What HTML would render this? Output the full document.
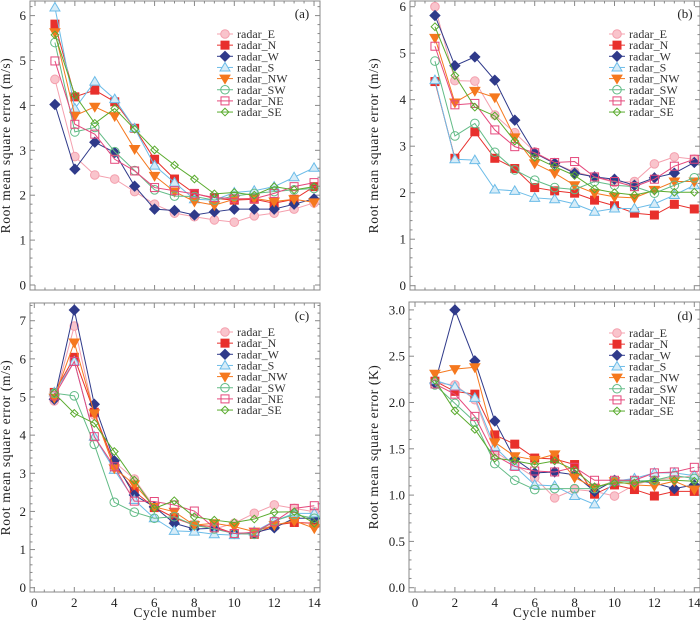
<!DOCTYPE html>
<html><head><meta charset="utf-8"><style>
body{margin:0;background:#fff}
svg{display:block;font-family:"Liberation Serif",serif}
</style></head><body>
<svg id="c" width="700" height="622" viewBox="0 0 700 622" xmlns="http://www.w3.org/2000/svg"></svg>
<script>
const cycles=[1,2,3,4,5,6,7,8,9,10,11,12,13,14];
const seriesNames=["radar_E","radar_N","radar_W","radar_S","radar_NW","radar_SW","radar_NE","radar_SE"];
const aE=[4.58,2.86,2.45,2.36,2.08,1.8,1.6,1.52,1.45,1.4,1.54,1.6,1.69,1.83];
const aN=[5.81,4.19,4.34,4.08,3.49,2.8,2.36,2.04,1.93,1.89,1.91,1.82,1.91,2.19];
const aW=[4.02,2.58,3.18,2.95,2.2,1.69,1.66,1.56,1.63,1.69,1.69,1.69,1.8,1.92];
const aS=[6.18,3.93,4.53,4.14,3.49,2.66,2.28,1.91,1.89,2.06,2.1,2.19,2.4,2.61];
const aNW=[5.63,3.77,3.97,3.76,3.03,2.43,2.08,1.86,1.78,1.91,1.93,1.86,1.91,1.84];
const aSW=[5.4,3.41,3.51,2.97,2.55,2.12,1.98,1.97,1.89,1.98,2.04,2.08,2.12,2.15];
const aNE=[4.99,3.58,3.36,2.8,2.54,2.17,2.1,2.03,1.95,1.92,1.92,2.04,2.19,2.28];
const aSE=[5.57,4.23,3.6,3.93,3.47,3.01,2.67,2.36,2.03,2.06,2.0,2.19,2.12,2.19];
const bE=[6.0,4.41,4.4,3.67,3.29,2.88,2.63,2.45,2.34,2.22,2.24,2.62,2.77,2.72];
const bN=[4.39,2.74,3.31,2.74,2.52,2.11,2.04,1.99,1.84,1.72,1.56,1.52,1.75,1.65];
const bW=[5.81,4.73,4.92,4.42,3.56,2.85,2.63,2.42,2.34,2.29,2.16,2.32,2.42,2.65];
const bS=[4.42,2.72,2.7,2.07,2.04,1.89,1.86,1.76,1.59,1.66,1.66,1.76,1.95,2.16];
const bNW=[5.33,3.94,4.19,4.05,3.19,2.63,2.42,2.16,1.99,1.91,1.89,2.06,2.24,2.24];
const bSW=[4.83,3.22,3.49,2.87,2.49,2.27,2.11,2.07,2.24,2.16,2.13,1.99,2.16,2.32];
const bNE=[5.15,3.89,3.92,3.35,2.99,2.86,2.65,2.67,2.34,2.24,2.13,2.29,2.57,2.72];
const bSE=[5.57,4.52,3.84,3.65,3.11,2.76,2.56,2.37,2.08,2.0,1.95,2.04,2.01,2.01];
const cE=[4.9,6.86,4.53,3.3,2.85,2.12,1.82,1.64,1.54,1.69,1.95,2.17,2.08,1.99];
const cN=[5.12,6.04,4.6,3.23,2.53,2.1,1.84,1.64,1.6,1.42,1.4,1.64,1.71,1.69];
const cW=[4.94,7.28,4.81,3.33,2.43,2.12,1.69,1.54,1.56,1.42,1.44,1.57,1.82,1.82];
const cS=[5.12,5.93,3.96,3.09,2.3,1.82,1.49,1.47,1.4,1.38,1.47,1.75,1.95,1.95];
const cNW=[4.98,6.43,4.57,3.13,2.71,2.12,1.99,1.64,1.69,1.6,1.47,1.64,1.75,1.56];
const cSW=[5.1,5.03,3.76,2.24,1.98,1.82,1.86,1.64,1.54,1.42,1.4,1.75,1.92,1.82];
const cNE=[5.03,5.93,3.96,3.17,2.27,2.26,2.17,2.01,1.57,1.42,1.45,1.73,2.08,2.15];
const cSE=[5.1,4.57,4.31,3.57,2.82,2.08,2.28,1.86,1.77,1.71,1.8,1.98,1.99,1.69];
const dE=[2.21,2.19,2.03,1.47,1.33,1.19,0.97,1.06,1.04,0.99,1.11,1.17,1.18,1.21];
const dN=[2.23,2.12,2.09,1.65,1.55,1.4,1.39,1.33,1.01,1.11,1.06,0.99,1.04,1.04];
const dW=[2.21,3.0,2.45,1.8,1.39,1.24,1.25,1.22,1.04,1.16,1.16,1.13,1.07,1.11];
const dS=[2.24,2.17,2.05,1.52,1.31,1.11,1.1,0.99,0.9,1.15,1.18,1.24,1.24,1.21];
const dNW=[2.31,2.36,2.38,1.57,1.42,1.38,1.44,1.19,1.08,1.15,1.11,1.1,1.15,1.06];
const dSW=[2.19,1.99,1.79,1.34,1.16,1.06,1.07,1.07,1.07,1.15,1.15,1.16,1.21,1.18];
const dNE=[2.2,2.09,1.85,1.43,1.31,1.26,1.25,1.3,1.16,1.16,1.16,1.24,1.25,1.3];
const dSE=[2.24,1.91,1.71,1.4,1.37,1.33,1.37,1.27,1.09,1.13,1.13,1.16,1.16,1.15];
const xTickLabels=["0","2","4","6","8","10","12","14"];
const yTicksA=["0","1","2","3","4","5","6"];
const yTicksC=["0","1","2","3","4","5","6","7"];
const yTicksD=["0.0","0.5","1.0","1.5","2.0","2.5","3.0"];

const NS="http://www.w3.org/2000/svg";
const svg=document.getElementById('c');
function mk(tag,attrs,parent){const e=document.createElementNS(NS,tag);for(const k in attrs)e.setAttribute(k,attrs[k]);(parent||svg).appendChild(e);return e;}
const styles=[
 {stroke:"#f4a0ae",fill:"#f9c4cc",shape:"circle",line:"#f4a0ae"},
 {stroke:"#e8302c",fill:"#e8302c",shape:"square",line:"#e8302c"},
 {stroke:"#2f3a8a",fill:"#2f3a8a",shape:"diamond",line:"#2f3a8a"},
 {stroke:"#6cbce8",fill:"#d6ecf8",shape:"tri",line:"#6cbce8"},
 {stroke:"#f5781e",fill:"#f5781e",shape:"tridown",line:"#f5781e"},
 {stroke:"#62bb86",fill:"none",shape:"circle",line:"#62bb86"},
 {stroke:"#e5487c",fill:"none",shape:"square",line:"#e5487c"},
 {stroke:"#5aab2e",fill:"none",shape:"diamondS",line:"#5aab2e"}];
function marker(g,s,x,y){
 const a={stroke:s.stroke,fill:s.fill,'stroke-width':1};
 let e;
 if(s.shape==="circle"){e=mk('circle',Object.assign({cx:x,cy:y,r:4.3},a),g);}
 else if(s.shape==="square"){e=mk('rect',Object.assign({x:x-4,y:y-4,width:8,height:8},a),g);}
 else if(s.shape==="diamond"){e=mk('polygon',Object.assign({points:`${x},${y-5} ${x+5},${y} ${x},${y+5} ${x-5},${y}`},a),g);}
 else if(s.shape==="diamondS"){e=mk('polygon',Object.assign({points:`${x},${y-3.8} ${x+3.8},${y} ${x},${y+3.8} ${x-3.8},${y}`},a),g);}
 else if(s.shape==="tri"){e=mk('polygon',Object.assign({points:`${x},${y-5} ${x+5},${y+3.5} ${x-5},${y+3.5}`},a),g);}
 else {e=mk('polygon',Object.assign({points:`${x},${y+5} ${x+5},${y-3.5} ${x-5},${y-3.5}`},a),g);}
 return e;
}
const panels=[
 {id:"a",L:30,R:320,T:1,B:290,x0:35,xu:19.93,y0:285,yu:44.9,ymaj:1,ymin:0.2,yl:yTicksA,data:[aE,aN,aW,aS,aNW,aSW,aNE,aSE],unit:"(m/s)",lx:225,ly:34,tag:[302,18],xlab:false,yt:10},
 {id:"b",L:410,R:700,T:1,B:290,x0:415,xu:19.95,y0:285.7,yu:46.5,ymaj:1,ymin:0.2,yl:yTicksA,data:[bE,bN,bW,bS,bNW,bSW,bNE,bSE],unit:"(m/s)",lx:617,ly:34,tag:[685,18],xlab:false,yt:378},
 {id:"c",L:30,R:320,T:303,B:592,x0:34.3,xu:20,y0:587.7,yu:38.14,ymaj:1,ymin:0.2,yl:yTicksC,data:[cE,cN,cW,cS,cNW,cSW,cNE,cSE],unit:"(m/s)",lx:225,ly:332,tag:[302,320],xlab:true,yt:10},
 {id:"d",L:409,R:700,T:302,B:592,x0:415,xu:19.95,y0:587.7,yu:92.6,ymaj:0.5,ymin:0.1,yl:yTicksD,data:[dE,dN,dW,dS,dNW,dSW,dNE,dSE],unit:"(K)",lx:617,ly:333,tag:[685,320],xlab:true,yt:378}];
panels.forEach(p=>{
 const g=mk('g',{});
 
 
 const X=v=>p.x0+v*p.xu, Y=v=>p.y0-v*p.yu;
 const box=mk('rect',{x:p.L,y:p.T,width:p.R-p.L,height:p.B-p.T,fill:'none',stroke:'#888','stroke-width':1},g);
 
 
 const tg=mk('g',{stroke:'#888','stroke-width':1},g);
 
 
 for(let i=0;i<=30;i++){const v=i*0.5;const x=X(v);if(x<p.L||x>p.R)continue;const len=(i%4===0)?5:2.5;
  mk('line',{x1:x,x2:x,y1:p.B,y2:p.B-len},tg);mk('line',{x1:x,x2:x,y1:p.T,y2:p.T+len},tg);}
 const nmin=Math.round(p.yl.length*p.ymaj/p.ymin)+3;
 for(let i=0;i<=nmin;i++){const v=i*p.ymin;const y=Y(v);if(y<p.T||y>p.B)continue;const maj=Math.abs(v/p.ymaj-Math.round(v/p.ymaj))<1e-6;const len=maj?5:2.5;
  mk('line',{x1:p.L,x2:p.L+len,y1:y,y2:y},tg);mk('line',{x1:p.R,x2:p.R-len,y1:y,y2:y},tg);}
 const xlg=mk('g',{'font-size':13,'text-anchor':'middle',fill:'#222'},g);
 
 
 if(p.xlab){xTickLabels.forEach((t,i)=>{const e=mk('text',{x:X(i*2),y:p.B+15},xlg);e.textContent=t;});}
 const ylg=mk('g',{'font-size':13,'text-anchor':'end',fill:'#222'},g);
 
 
 p.yl.forEach((t,i)=>{const e=mk('text',{x:p.L-4,y:Y(i*p.ymaj)+4.5},ylg);e.textContent=t;});
 const cy=(p.T+p.B)/2;
 const yt=mk('text',{x:p.yt,y:cy,'font-size':13.5,'text-anchor':'middle',fill:'#222',transform:`rotate(-90 ${p.yt} ${cy})`,'letter-spacing':'0.6'},g);
 yt.textContent='Root  mean  square  error  '+p.unit;
 
 
 if(p.xlab){const xt=mk('text',{x:(p.L+p.R)/2,y:617,'font-size':13.5,'text-anchor':'middle',fill:'#222','letter-spacing':'0.6'},g);xt.textContent='Cycle  number';
  
  }
 const tag=mk('text',{x:p.tag[0],y:p.tag[1],'font-size':13,'text-anchor':'middle',fill:'#222'},g);tag.textContent='('+p.id+')';
 
 
 p.data.forEach((arr,si)=>{const s=styles[si];
  const sg=mk('g',{},g);
  
  
  mk('polyline',{points:arr.map((v,i)=>X(cycles[i])+','+Y(v)).join(' '),fill:'none',stroke:s.line,'stroke-width':1},sg);
  arr.forEach((v,i)=>{const m=marker(sg,s,X(cycles[i]),Y(v));
   
   });
 });
 const lg=mk('g',{},g);
 
 
 seriesNames.forEach((n,si)=>{const s=styles[si];const y=p.ly+si*11.15;
  const eg=mk('g',{},lg);
  
  
  mk('line',{x1:p.lx-8,x2:p.lx+8,y1:y,y2:y,stroke:s.line,'stroke-width':1},eg);
  marker(eg,s,p.lx,y);
  const t=mk('text',{x:p.lx+12,y:y+4,'font-size':12,fill:'#333'},eg);t.textContent=n;});
});
</script>
</body></html>
